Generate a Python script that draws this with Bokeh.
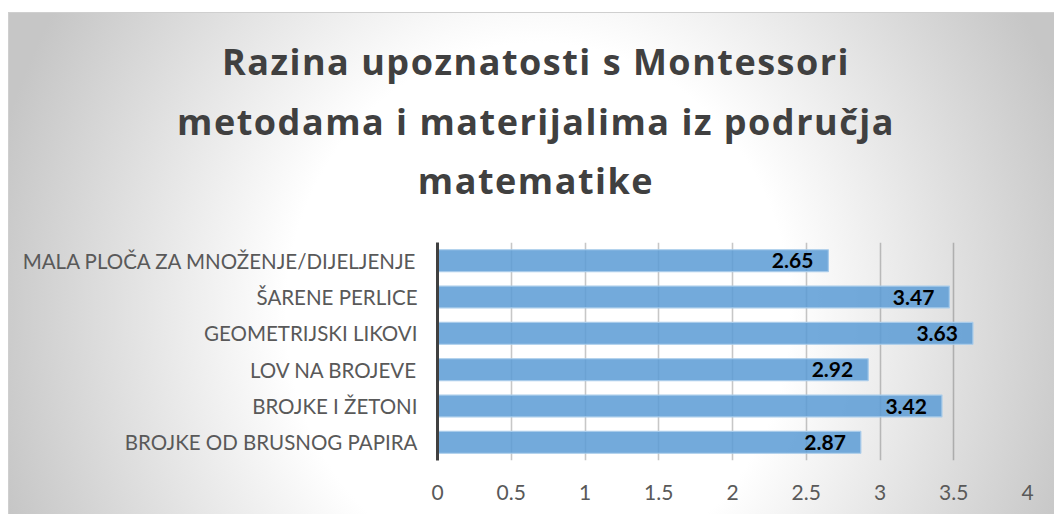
from bokeh.plotting import figure
from bokeh.models import FactorRange, Range1d, FixedTicker, ColumnDataSource, Div
from bokeh.layouts import column
from bokeh.core.properties import value
from bokeh.embed import file_html
from bokeh.resources import INLINE

# ---- data ----
categories = [
    "MALA PLOČA ZA MNOŽENJE/DIJELJENJE",
    "ŠARENE PERLICE",
    "GEOMETRIJSKI LIKOVI",
    "LOV NA BROJEVE",
    "BROJKE I ŽETONI",
    "BROJKE OD BRUSNOG PAPIRA",
]
values = [2.65, 3.47, 3.63, 2.92, 3.42, 2.87]
value_labels = ["2.65", "3.47", "3.63", "2.92", "3.42", "2.87"]
x_ticks = [0, 0.5, 1, 1.5, 2, 2.5, 3, 3.5, 4]
x_tick_labels = ["0", "0.5", "1", "1.5", "2", "2.5", "3", "3.5", "4"]
title_lines = [
    "Razina upoznatosti s Montessori",
    "metodama i materijalima iz područja",
    "matematike",
]

W = 1046
HT = 230   # title area height
HP = 272   # plot area height

# ---- title ----
title = Div(
    text="<br>".join(title_lines),
    width=W, height=HT, margin=0,
    styles={
        "font-family": "'Open Sans'",
        "font-weight": "bold",
        "font-size": "36px",
        "letter-spacing": "1.5px",
        "line-height": "59.5px",
        "color": "#404040",
        "text-align": "center",
        "padding-top": "20px",
        "padding-left": "10px",
        "box-sizing": "border-box",
        "width": f"{W}px",
    },
)

# ---- main chart ----
source = ColumnDataSource(dict(cat=categories, val=values, lab=value_labels))

p = figure(
    width=W, height=HP,
    y_range=FactorRange(factors=categories[::-1]),
    x_range=Range1d(0, 4),
    output_backend="svg", toolbar_location=None,
    min_border_left=429, min_border_right=27,
    min_border_top=0, min_border_bottom=54,
    border_fill_color=None, background_fill_color=None,
    outline_line_color=None,
)

p.hbar(y="cat", right="val", left=0, height=0.6, source=source,
       fill_color="#5B9BD5", fill_alpha=0.85,
       line_color="#A8CBEA", line_width=1.2)

p.text(x="val", y="cat", text="lab", source=source,
       x_offset=-15, text_align="right", text_baseline="middle",
       text_font=value("Lato"), text_font_style="bold",
       text_font_size="21px", text_color="#000000")

# axes
p.xaxis.ticker = FixedTicker(ticks=x_ticks)
p.xaxis.major_label_overrides = {t: l for t, l in zip(x_ticks, x_tick_labels)}
p.xaxis.axis_line_color = None
p.xaxis.major_tick_line_color = None
p.xaxis.minor_tick_line_color = None
p.xaxis.major_tick_out = 0
p.xaxis.major_tick_in = 0
p.xaxis.major_label_standoff = 24
p.xaxis.major_label_text_font = "Lato"
p.xaxis.major_label_text_font_size = "21px"
p.xaxis.major_label_text_color = "#595959"

p.yaxis.axis_line_color = "#404040"
p.yaxis.axis_line_width = 3
p.yaxis.major_tick_line_color = None
p.yaxis.minor_tick_line_color = None
p.yaxis.major_tick_out = 0
p.yaxis.major_tick_in = 0
p.yaxis.major_label_standoff = 20
p.yaxis.major_label_text_font = "Lato"
p.yaxis.major_label_text_font_size = "20.5px"
p.yaxis.major_label_text_color = "#595959"

p.xgrid.ticker = FixedTicker(ticks=x_ticks)
p.xgrid.grid_line_color = "#000000"
p.xgrid.grid_line_alpha = 0.22
p.xgrid.grid_line_width = 1.6
p.ygrid.grid_line_color = None

layout = column(title, p, spacing=0)
layout.styles = {
    "background": "radial-gradient(ellipse 560px 600px at 530px 301px, #ffffff 0%, #ffffff 45%, #c6c6c6 100%)",
    "box-shadow": "inset 1px 1px 0 0 #cfcfcf",
    "margin-top": "12px",
    "margin-left": "8px",
}

open("out.html", "w").write(file_html(layout, INLINE))
